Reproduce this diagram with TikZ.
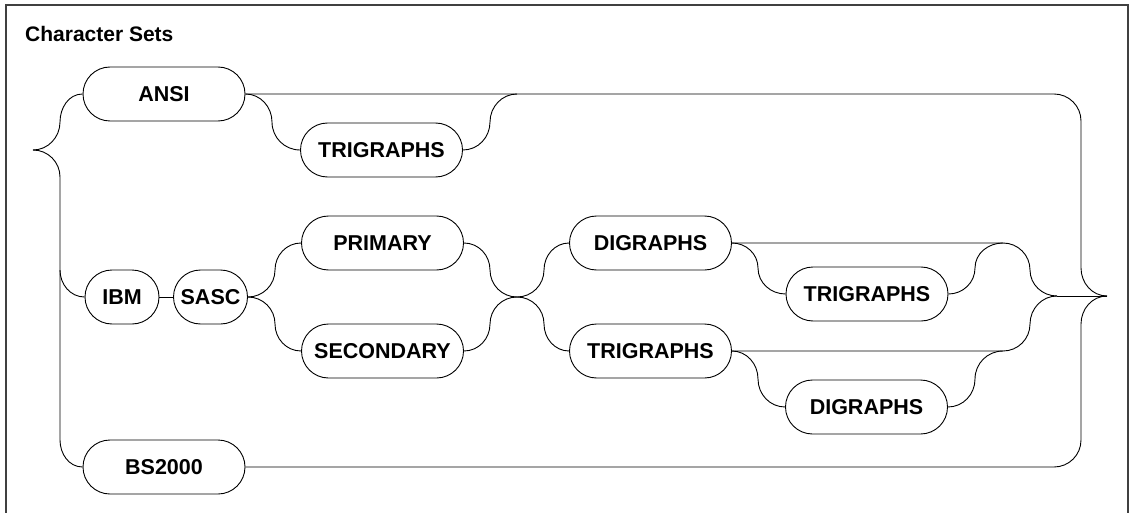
\documentclass[tikz,border=0pt]{standalone}
\usepackage{fontspec}
\setmainfont{Liberation Sans}
\begin{document}
\begin{tikzpicture}[x=1pt,y=1pt,
  conn/.style={line width=0.9pt,black},
  term/.style={draw,line width=0.9pt,rounded corners=27pt,minimum height=54pt,
    inner sep=0pt,text height=15.5pt,text depth=0pt,
    font=\fontsize{21.5}{25}\selectfont\bfseries},
  wide/.style={term,minimum width=162pt},
  narrow/.style={term,minimum width=74pt},
  framestyle/.style={line width=1.3pt,black!75}]
\useasboundingbox (0,0) rectangle (1139,-513);
\draw[framestyle] (6,-513) -- (6,-5) -- (1128,-5) -- (1128,-513);
\node[anchor=base west,inner sep=0pt,font=\fontsize{21}{24}\selectfont\bfseries] (title) at (25,-42) {Character Sets};

% nodes
\node[wide] (ansi) at (164,-94) {ANSI};
\node[wide] (trig1) at (381.5,-150) {TRIGRAPHS};
\node[narrow] (ibm) at (122,-297) {IBM};
\node[narrow] (sasc) at (210.5,-297) {SASC};
\node[wide] (bs) at (164,-467) {BS2000};
\node[wide] (prim) at (382.5,-243) {PRIMARY};
\node[wide] (sec) at (382.5,-351) {SECONDARY};
\node[wide] (dig1) at (650.5,-243) {DIGRAPHS};
\node[wide] (trig2) at (650.5,-351) {TRIGRAPHS};
\node[wide] (trig3) at (867,-294) {TRIGRAPHS};
\node[wide] (dig2) at (866.5,-407) {DIGRAPHS};

% coordinates
\coordinate (lt) at (33,-150);
\coordinate (rt) at (1107,-296);
\coordinate (j) at (517,-297);
\coordinate (m) at (1057,-296);
\coordinate (a1) at (1003,-243);
\coordinate (a2) at (1003,-351);
\coordinate (top) at (517,-94);

% left brace
\draw[conn] (ansi.west) to[out=180,in=90] (60,-122) to[out=-90,in=0] (lt);
\draw[conn] (lt) to[out=0,in=90] (60,-177) -- (60,-270) to[out=-90,in=180] (ibm.west);
\draw[conn] (60,-270) -- (60,-440) to[out=-90,in=180] (bs.west);

% ANSI row
\draw[conn] (ansi.east) -- (1054,-94) to[out=0,in=90] (1081,-121) -- (1081,-268) to[out=-90,in=180] (rt);
\draw[conn] (ansi.east) to[out=0,in=90] (272,-122) to[out=-90,in=180] (trig1.west);
\draw[conn] (trig1.east) to[out=0,in=-90] (490,-122) to[out=90,in=180] (top);

% BS2000 row
\draw[conn] (bs.east) -- (1054,-467) to[out=0,in=-90] (1081,-440) -- (1081,-324) to[out=90,in=180] (rt);

% IBM row
\draw[conn] (ibm.east) -- (sasc.west);
\draw[conn] (sasc.east) to[out=0,in=-90] (275,-270) to[out=90,in=180] (prim.west);
\draw[conn] (sasc.east) to[out=0,in=90] (275,-324) to[out=-90,in=180] (sec.west);
\draw[conn] (prim.east) to[out=0,in=90] (490,-270) to[out=-90,in=180] (j);
\draw[conn] (sec.east) to[out=0,in=-90] (490,-324) to[out=90,in=180] (j);
\draw[conn] (j) to[out=0,in=-90] (544,-270) to[out=90,in=180] (dig1.west);
\draw[conn] (j) to[out=0,in=90] (544,-324) to[out=-90,in=180] (trig2.west);

\draw[conn] (dig1.east) -- (a1) to[out=0,in=90] (1030,-270) to[out=-90,in=180] (m);
\draw[conn] (dig1.east) to[out=0,in=90] (758,-268) to[out=-90,in=180] (trig3.west);
\draw[conn] (trig3.east) to[out=0,in=-90] (975,-268) to[out=90,in=180] (a1);

\draw[conn] (trig2.east) -- (a2) to[out=0,in=-90] (1030,-324) to[out=90,in=180] (m);
\draw[conn] (trig2.east) to[out=0,in=90] (758,-379) to[out=-90,in=180] (dig2.west);
\draw[conn] (dig2.east) to[out=0,in=-90] (975,-379) to[out=90,in=180] (a2);

\draw[conn] (m) -- (rt);
\end{tikzpicture}
\end{document}
